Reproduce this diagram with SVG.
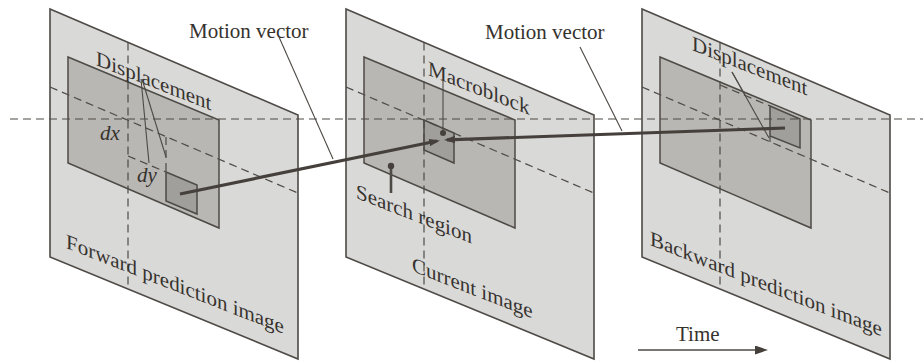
<svg xmlns="http://www.w3.org/2000/svg" width="923" height="361" viewBox="0 0 923 361">
<style>
.panel{fill:#d9d9d8;stroke:#4e4a45;stroke-width:1.6}
.inner{fill:#b8b7b3;stroke:#4e4a45;stroke-width:1.5}
.block{fill:#a09f9b;stroke:#4e4a45;stroke-width:1.5}
.dash{fill:none;stroke:#4e4a45;stroke-width:1.2;stroke-dasharray:8 5}
.lead{fill:none;stroke:#4e4a45;stroke-width:1.1}
.mv{fill:none;stroke:#45403b;stroke-width:3.2}
.t{font-family:"Liberation Serif","Times New Roman",serif;font-size:21px;fill:#36322e}
.it{font-style:italic}
</style>
<defs>
<marker id="mvh" markerUnits="userSpaceOnUse" markerWidth="12" markerHeight="8" refX="8" refY="3.75" orient="auto">
<path d="M0,0 L11,3.75 L0,7.5 z" fill="#45403b"/>
</marker>
<marker id="th" markerUnits="userSpaceOnUse" markerWidth="14" markerHeight="10" refX="0" refY="4.5" orient="auto">
<path d="M0,0 L13,4.5 L0,9 z" fill="#45403b"/>
</marker>
</defs>
<rect x="0" y="0" width="923" height="361" fill="#ffffff"/>

<g id="forward-image">
<polygon class="panel" points="50,9 298,115 298,359 50,257"/>
<polygon class="inner" points="68,57 219,120 219,228 68,163"/>
<polygon class="block" points="166,172 197,185 197,214 166,201"/>
<line class="dash" x1="128" y1="42.5" x2="128" y2="289"/>
<line class="dash" x1="50" y1="87" x2="298" y2="193"/>
<line class="dash" x1="166" y1="137" x2="166" y2="172"/>
<line class="dash" x1="128" y1="156" x2="166" y2="172"/>
<text class="t" transform="translate(96,65) skewY(21.5)">Displacement</text>
<text class="t it" x="100" y="140">dx</text>
<text class="t it" x="137" y="182">dy</text>
<text class="t" transform="translate(66,248) skewY(21.5)">Forward prediction image</text>
</g>

<g id="current-image">
<polygon class="panel" points="346,9 594,115 594,359 346,257"/>
<polygon class="inner" points="364,57 515,120 515,228 364,163"/>
<polygon class="block" points="424,120 454,133 454,163 424,150"/>
<line class="dash" x1="424" y1="42.5" x2="424" y2="289"/>
<line class="dash" x1="346" y1="87" x2="594" y2="193"/>
<text class="t" transform="translate(428,75) skewY(21.5)">Macroblock</text>
<text class="t" transform="translate(356,198) skewY(21.5)">Search region</text>
<text class="t" transform="translate(412,271) skewY(21.5)">Current image</text>
</g>

<g id="backward-image">
<polygon class="panel" points="642,9 890,115 890,359 642,257"/>
<polygon class="inner" points="660,57 811,120 811,228 660,163"/>
<polygon class="block" points="770,106 800,119 800,148 770,136"/>
<line class="dash" x1="720" y1="42.5" x2="720" y2="289"/>
<line class="dash" x1="642" y1="87" x2="890" y2="193"/>
<line class="dash" x1="720" y1="85" x2="770" y2="106"/>
<line class="dash" x1="770" y1="136" x2="770" y2="142"/>
<text class="t" transform="translate(692,50) skewY(21.5)">Displacement</text>
<text class="t" transform="translate(650,245) skewY(21.5)">Backward prediction image</text>
</g>

<g id="axis">
<line class="dash" x1="10" y1="119" x2="923" y2="119"/>
</g>

<g id="labels">
<text class="t" x="189" y="38">Motion vector</text>
<text class="t" x="485" y="39">Motion vector</text>
<text class="t" x="676" y="341">Time</text>
</g>

<g id="connectors">
<path class="lead" d="M141,79 L149,163"/>
<path class="lead" d="M142,79 L166,157"/>
<path class="lead" d="M732,72 L745,95"/>
<path class="lead" d="M732,72 L769,138"/>
<path class="lead" d="M279,37 L333,159"/>
<path class="lead" d="M580,47 L622,131"/>
<path class="lead" d="M443,81 L443,133"/>
<circle cx="443" cy="133" r="3" fill="#45403b"/>
<path class="lead" style="stroke-width:2.6" d="M391,166 L391,193"/>
<circle cx="391" cy="166" r="3.2" fill="#45403b"/>
<path class="mv" d="M180,194 L437,141" marker-end="url(#mvh)"/>
<path class="mv" d="M785,128 L447,139.9" marker-end="url(#mvh)"/>
<path class="lead" style="stroke-width:1.4" d="M638,350 L755,350" marker-end="url(#th)"/>
</g>
</svg>
